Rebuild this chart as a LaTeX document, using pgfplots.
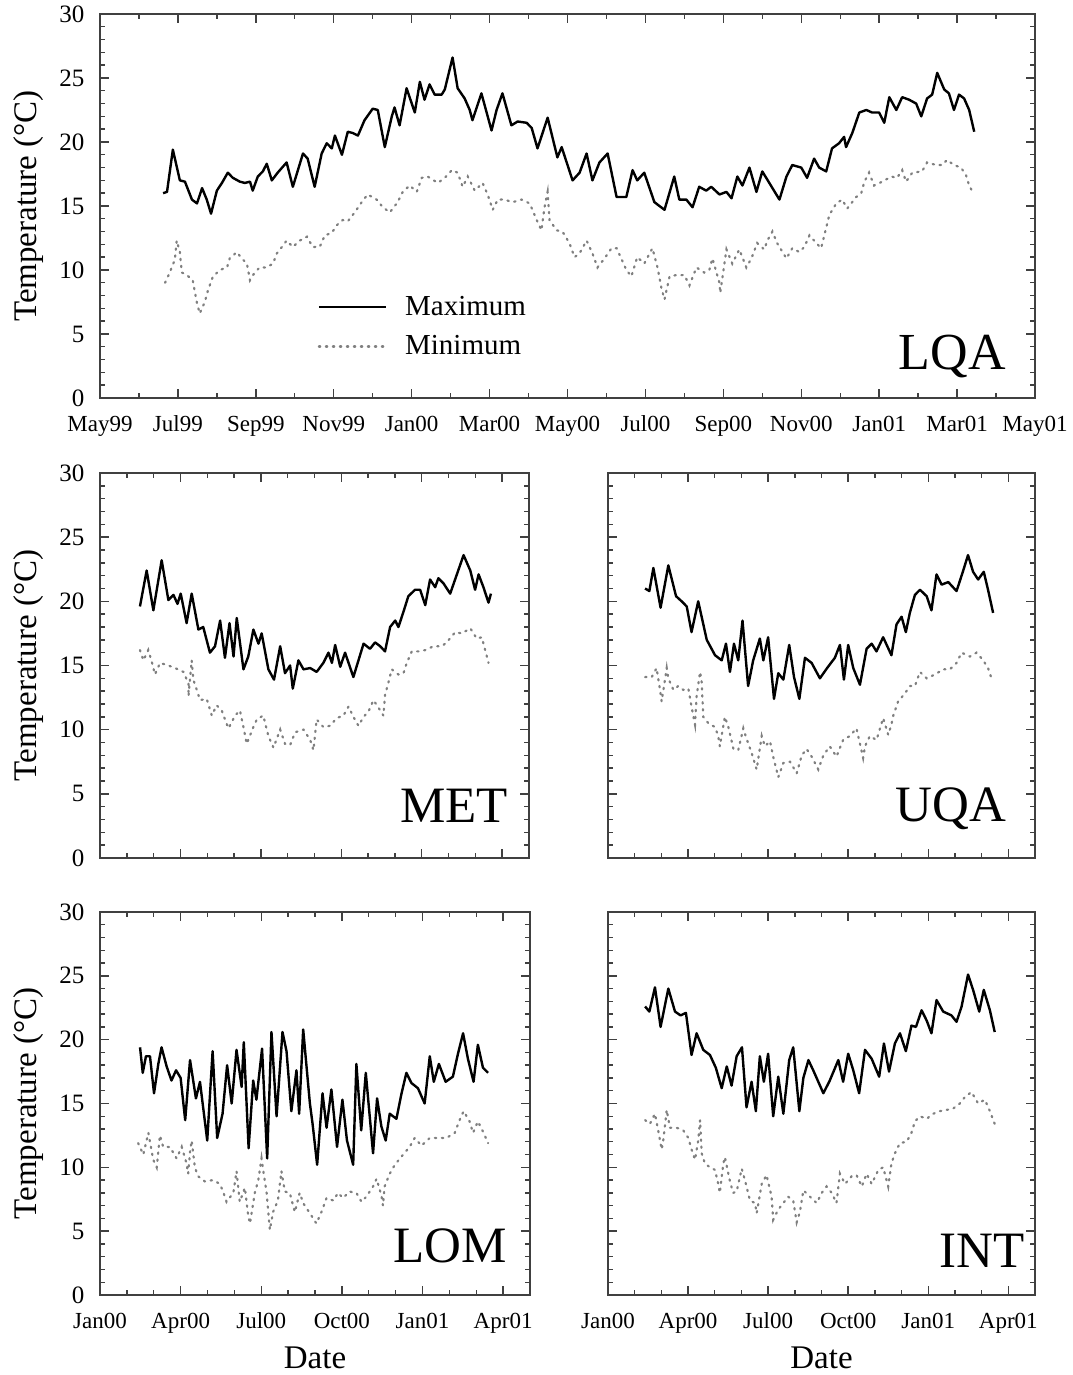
\documentclass[border=0pt]{standalone}
\usepackage{fontspec}
\setmainfont{Liberation Serif}
\usepackage{pgfplots}
\pgfplotsset{compat=1.18}
\begin{document}
\begin{tikzpicture}
\tikzset{lbl/.style={anchor=base east, inner sep=0pt, font=\fontsize{25.5}{27}\selectfont}}
\pgfplotsset{
  panel/.style={
    scale only axis, anchor=south west,
    ymin=0, ymax=30, ytick={0,5,...,30}, minor y tick num=4,
    tick align=inside, axis line style={black!75, line width=1.1pt},
    major tick length=4.5pt, minor tick length=2.5pt,
    every tick/.style={black!75, line width=0.7pt},
    /pgf/number format/assume math mode=true,
    yticklabel style={font=\fontsize{12.5}{14}\selectfont, xshift=-4.3pt},
    xticklabel style={font=\fontsize{11.5}{13}\selectfont, anchor=base, yshift=-16.8pt},
    every axis y label/.style={at={([xshift=-35.75pt]rel axis cs:0,0.5)}, rotate=90, anchor=center, font=\fontsize{16.5}{18}\selectfont},
    every axis x label/.style={at={([yshift=-31.5pt]rel axis cs:0.5,0)}, anchor=center, inner sep=0pt, font=\fontsize{16.5}{18}\selectfont},
  },
  tmax/.style={black, line width=1.2pt, line join=round, mark=none},
  tmin/.style={black!50, line width=1.1pt, dash pattern=on 0.7pt off 2.8pt, line cap=round, mark=none},
  small/.style={panel, xmin=0, xmax=16, xtick={0,3,...,15}, minor x tick num=2},
}
\path[use as bounding box] (0pt,0pt) rectangle (536pt,687.5pt);

% ---------------- LQA ----------------
\begin{axis}[panel, at={(50pt,488.5pt)}, width=467.5pt, height=192pt,
  xmin=0, xmax=24, xtick={0,2,...,24}, minor x tick num=1,
  xticklabels={May99,Jul99,Sep99,Nov99,Jan00,Mar00,May00,Jul00,Sep00,Nov00,Jan01,Mar01,May01},
  ylabel={Temperature (°C)},
  legend style={draw=none, fill=none, at={(0.226,0.287)}, anchor=north west,
    font=\fontsize{14.5}{16}\selectfont, row sep=4.5pt,
    /tikz/every odd column/.append style={column sep=7pt}},
  legend cell align=left,
  legend image code/.code={\draw[#1] (0pt,0pt) -- (33.5pt,0pt);}]
\addplot[tmax] coordinates {(1.62,16.0)(1.72,16.1)(1.87,19.4)(2.05,17.0)(2.18,16.9)(2.36,15.5)(2.49,15.2)(2.62,16.4)(2.74,15.5)(2.85,14.4)(3.00,16.2)(3.13,16.8)(3.28,17.6)(3.41,17.2)(3.59,16.9)(3.72,16.8)(3.85,16.9)(3.92,16.2)(4.05,17.3)(4.18,17.7)(4.28,18.3)(4.41,17.0)(4.56,17.6)(4.79,18.4)(4.95,16.5)(5.08,17.8)(5.21,19.1)(5.33,18.7)(5.51,16.5)(5.69,19.1)(5.82,19.9)(5.95,19.5)(6.03,20.5)(6.21,19.0)(6.36,20.8)(6.49,20.7)(6.62,20.5)(6.79,21.7)(7.00,22.6)(7.13,22.5)(7.31,19.6)(7.49,22.0)(7.56,22.7)(7.69,21.3)(7.87,24.2)(8.08,22.3)(8.21,24.7)(8.33,23.3)(8.46,24.5)(8.59,23.7)(8.77,23.7)(8.85,24.1)(9.05,26.6)(9.18,24.2)(9.36,23.4)(9.49,22.5)(9.56,21.7)(9.79,23.8)(10.05,20.9)(10.18,22.5)(10.33,23.8)(10.56,21.3)(10.72,21.6)(10.95,21.5)(11.08,21.1)(11.23,19.5)(11.49,21.9)(11.74,18.8)(11.85,19.6)(12.13,17.0)(12.31,17.6)(12.49,19.1)(12.64,17.0)(12.82,18.4)(13.03,19.1)(13.26,15.7)(13.51,15.7)(13.67,17.8)(13.79,17.0)(13.97,17.6)(14.23,15.3)(14.49,14.7)(14.74,17.3)(14.87,15.5)(15.05,15.5)(15.21,14.9)(15.38,16.5)(15.56,16.2)(15.69,16.5)(15.90,15.9)(16.08,16.1)(16.21,15.6)(16.36,17.3)(16.49,16.6)(16.67,18.0)(16.85,16.1)(17.00,17.7)(17.18,16.8)(17.44,15.5)(17.62,17.3)(17.77,18.2)(18.00,18.0)(18.15,17.2)(18.33,18.7)(18.46,18.0)(18.64,17.7)(18.79,19.5)(18.97,19.9)(19.10,20.4)(19.15,19.6)(19.31,20.7)(19.49,22.3)(19.67,22.5)(19.82,22.3)(20.00,22.3)(20.13,21.5)(20.26,23.5)(20.44,22.5)(20.59,23.5)(20.77,23.3)(20.95,23.0)(21.08,22.0)(21.23,23.4)(21.36,23.7)(21.49,25.4)(21.67,24.1)(21.79,23.8)(21.92,22.5)(22.05,23.7)(22.18,23.4)(22.31,22.5)(22.44,20.8)};
\addlegendentry{Maximum}
\addplot[tmin] coordinates {(1.67,9.0)(1.79,9.8)(1.92,10.8)(1.97,12.3)(2.05,11.4)(2.10,9.8)(2.23,9.6)(2.38,9.2)(2.44,8.2)(2.49,7.4)(2.56,6.6)(2.69,7.5)(2.77,8.4)(2.90,9.5)(3.08,10.0)(3.26,10.2)(3.33,10.9)(3.51,11.4)(3.64,10.9)(3.77,10.5)(3.85,9.2)(3.97,9.8)(4.10,10.2)(4.28,10.2)(4.44,10.5)(4.54,11.3)(4.67,11.8)(4.79,12.3)(4.95,11.8)(5.13,12.3)(5.31,12.6)(5.46,11.8)(5.64,11.8)(5.77,12.7)(5.95,12.9)(6.08,13.5)(6.23,13.9)(6.36,13.8)(6.54,14.5)(6.67,15.1)(6.87,15.9)(7.10,15.5)(7.26,14.9)(7.44,14.5)(7.64,15.3)(7.77,16.1)(7.95,16.6)(8.13,16.1)(8.26,17.2)(8.41,17.3)(8.67,16.8)(8.85,17.2)(9.03,17.8)(9.18,17.6)(9.31,16.5)(9.44,17.3)(9.62,16.2)(9.82,16.8)(9.95,15.9)(10.08,14.7)(10.21,15.5)(10.38,15.5)(10.59,15.3)(10.82,15.5)(11.03,15.2)(11.21,13.9)(11.33,13.1)(11.41,14.9)(11.49,16.1)(11.54,13.9)(11.72,13.1)(11.87,13.0)(12.05,12.1)(12.18,11.0)(12.31,11.3)(12.49,12.3)(12.64,11.3)(12.77,10.2)(12.95,10.9)(13.13,11.7)(13.26,11.7)(13.38,10.9)(13.51,10.0)(13.64,9.5)(13.79,11.0)(13.97,10.5)(14.18,11.7)(14.31,10.2)(14.41,8.6)(14.49,7.7)(14.62,9.5)(14.79,9.6)(15.00,9.6)(15.13,8.8)(15.31,10.2)(15.51,9.8)(15.64,10.0)(15.72,10.9)(15.90,9.0)(15.92,8.2)(16.08,11.6)(16.23,10.5)(16.41,11.6)(16.59,10.2)(16.72,10.9)(16.87,12.1)(17.05,11.6)(17.13,12.3)(17.26,13.0)(17.38,12.1)(17.62,10.9)(17.77,11.7)(17.95,11.4)(18.08,11.8)(18.21,12.7)(18.33,12.3)(18.51,11.7)(18.64,13.3)(18.72,14.3)(18.90,15.2)(19.05,15.5)(19.18,14.8)(19.41,15.7)(19.54,16.0)(19.62,16.9)(19.74,17.6)(19.87,16.6)(20.08,16.9)(20.31,17.3)(20.46,17.2)(20.59,17.8)(20.69,16.9)(20.85,17.6)(21.10,17.7)(21.23,18.4)(21.46,18.2)(21.62,18.2)(21.74,18.6)(21.92,18.2)(22.10,18.0)(22.23,17.4)(22.31,16.6)(22.38,16.2)};
\addlegendentry{Minimum}
\node[lbl, font=\fontsize{26}{28}\selectfont] at (rel axis cs:0.969,0.073) {LQA};
\end{axis}

% ---------------- MET ----------------
\begin{axis}[small, at={(50pt,258.5pt)}, width=214.5pt, height=192.5pt,
  xticklabels={}, ylabel={Temperature (°C)}]
\addplot[tmax] coordinates {(1.49,19.6)(1.74,22.4)(1.99,19.3)(2.30,23.2)(2.55,20.1)(2.74,20.5)(2.89,19.8)(3.01,20.6)(3.23,18.3)(3.42,20.6)(3.67,17.8)(3.85,18.0)(4.10,16.0)(4.29,16.5)(4.48,18.5)(4.66,15.6)(4.83,18.3)(4.98,15.7)(5.10,18.7)(5.35,14.7)(5.53,15.7)(5.72,17.8)(5.91,16.7)(6.03,17.5)(6.28,14.7)(6.49,13.9)(6.72,16.5)(6.90,14.4)(7.09,15.0)(7.19,13.2)(7.40,15.4)(7.59,14.7)(7.84,14.8)(8.08,14.5)(8.33,15.2)(8.52,16.0)(8.65,15.2)(8.77,16.6)(8.96,14.9)(9.14,16.0)(9.45,14.1)(9.83,16.7)(10.07,16.3)(10.26,16.8)(10.45,16.5)(10.63,16.1)(10.82,18.0)(11.01,18.5)(11.13,18.0)(11.32,19.2)(11.50,20.4)(11.75,20.9)(11.94,20.9)(12.13,19.7)(12.31,21.7)(12.50,21.1)(12.62,21.8)(12.81,21.4)(13.06,20.6)(13.31,22.1)(13.56,23.6)(13.81,22.4)(13.99,20.9)(14.12,22.1)(14.30,21.1)(14.49,19.9)(14.58,20.6)};
\addplot[tmin] coordinates {(1.49,16.2)(1.62,15.4)(1.80,16.2)(1.93,15.3)(2.05,14.3)(2.24,15.2)(2.55,15.0)(2.80,14.8)(3.11,14.5)(3.30,13.6)(3.30,12.6)(3.42,15.4)(3.48,13.9)(3.61,13.1)(3.73,12.3)(3.98,12.4)(4.17,11.1)(4.35,11.9)(4.54,11.5)(4.66,10.8)(4.79,10.1)(5.04,11.1)(5.22,11.5)(5.35,10.2)(5.47,8.9)(5.72,10.2)(5.85,10.8)(6.09,11.1)(6.28,9.5)(6.47,8.6)(6.72,10.0)(6.90,8.9)(7.09,8.8)(7.28,9.8)(7.59,10.0)(7.84,9.2)(7.96,8.4)(8.08,10.8)(8.33,10.2)(8.58,10.3)(8.83,10.9)(9.08,11.1)(9.27,11.8)(9.45,11.0)(9.64,10.3)(9.83,11.0)(10.01,11.4)(10.20,12.3)(10.39,11.7)(10.57,11.1)(10.63,12.7)(10.76,13.7)(10.88,14.7)(11.13,14.3)(11.32,14.4)(11.44,15.2)(11.63,16.1)(11.88,16.1)(12.13,16.2)(12.44,16.5)(12.75,16.5)(12.93,16.8)(13.25,17.6)(13.50,17.5)(13.81,17.9)(14.05,17.1)(14.24,17.2)(14.49,15.2)};
\node[lbl] at (rel axis cs:0.952,0.091) {MET};
\end{axis}

% ---------------- UQA ----------------
\begin{axis}[small, at={(304pt,258.5pt)}, width=213.5pt, height=192.5pt,
  xticklabels={}, yticklabels={}]
\addplot[tmax] coordinates {(1.39,21.0)(1.55,20.8)(1.70,22.6)(1.97,19.5)(2.26,22.8)(2.55,20.4)(2.76,20.0)(2.95,19.6)(3.13,17.6)(3.38,20.0)(3.70,17.0)(4.01,15.8)(4.26,15.4)(4.42,16.7)(4.57,14.5)(4.72,16.7)(4.88,15.4)(5.04,18.5)(5.25,13.4)(5.44,15.4)(5.69,17.1)(5.82,15.4)(6.00,17.2)(6.22,12.4)(6.38,14.4)(6.57,13.9)(6.79,16.6)(6.97,14.1)(7.17,12.4)(7.38,15.6)(7.63,15.2)(7.94,14.0)(8.21,14.8)(8.50,15.6)(8.69,16.6)(8.84,13.9)(9.00,16.6)(9.19,14.8)(9.44,13.5)(9.69,16.3)(9.88,16.7)(10.06,16.1)(10.31,17.2)(10.62,15.8)(10.81,18.2)(11.00,18.8)(11.16,17.6)(11.31,19.1)(11.50,20.5)(11.69,20.9)(11.94,20.4)(12.12,19.3)(12.31,22.1)(12.50,21.3)(12.75,21.5)(13.06,20.8)(13.28,22.2)(13.49,23.6)(13.68,22.3)(13.87,21.7)(14.08,22.3)(14.24,20.9)(14.43,19.1)};
\addplot[tmin] coordinates {(1.39,14.1)(1.64,14.1)(1.82,14.8)(1.95,13.1)(2.01,12.2)(2.20,14.8)(2.26,14.0)(2.45,13.1)(2.63,13.4)(2.82,13.1)(3.01,13.2)(3.13,11.8)(3.26,10.4)(3.32,12.6)(3.45,14.5)(3.51,13.7)(3.57,11.0)(3.76,10.5)(4.01,10.2)(4.13,9.5)(4.19,8.7)(4.38,11.0)(4.51,10.2)(4.70,8.5)(4.88,8.4)(5.07,10.1)(5.19,9.3)(5.38,8.2)(5.57,6.9)(5.76,9.5)(5.88,8.7)(6.07,9.1)(6.19,7.9)(6.38,6.3)(6.57,7.4)(6.82,7.5)(7.07,6.6)(7.26,8.0)(7.44,8.5)(7.63,7.9)(7.88,6.9)(8.07,8.0)(8.31,8.7)(8.56,7.9)(8.81,9.2)(9.06,9.5)(9.31,10.1)(9.56,7.8)(9.63,8.7)(9.81,9.5)(10.06,9.2)(10.31,10.9)(10.50,9.6)(10.62,10.4)(10.69,11.1)(10.87,12.2)(11.12,12.8)(11.31,13.4)(11.50,13.4)(11.69,14.5)(11.94,14.0)(12.25,14.3)(12.56,14.7)(12.81,14.7)(13.06,15.2)(13.25,16.0)(13.56,15.7)(13.81,16.0)(14.06,15.4)(14.24,14.8)(14.37,14.0)};
\node[lbl] at (rel axis cs:0.934,0.094) {UQA};
\end{axis}

% ---------------- LOM ----------------
\begin{axis}[small, at={(50pt,40pt)}, width=215pt, height=191.5pt,
  xticklabels={Jan00,Apr00,Jul00,Oct00,Jan01,Apr01},
  ylabel={Temperature (°C)}, xlabel={Date}]
\addplot[tmax] coordinates {(1.49,19.4)(1.59,17.4)(1.71,18.7)(1.86,18.7)(2.01,15.8)(2.17,18.1)(2.29,19.4)(2.48,17.9)(2.66,16.8)(2.83,17.6)(3.00,17.0)(3.17,13.7)(3.35,18.4)(3.57,15.4)(3.72,16.7)(3.99,12.1)(4.19,19.1)(4.36,12.3)(4.56,14.2)(4.73,18.0)(4.90,15.0)(5.08,19.2)(5.27,16.3)(5.35,19.8)(5.53,11.5)(5.70,16.8)(5.82,15.3)(6.03,19.3)(6.22,10.7)(6.38,20.6)(6.57,14.0)(6.79,20.6)(6.94,19.1)(7.12,14.4)(7.31,17.6)(7.41,14.2)(7.56,20.8)(7.81,15.0)(7.91,13.4)(8.08,10.2)(8.28,15.8)(8.43,13.1)(8.61,16.1)(8.82,11.6)(9.02,15.3)(9.19,12.1)(9.42,10.2)(9.54,18.1)(9.72,12.9)(9.89,17.4)(10.16,11.1)(10.31,15.4)(10.47,13.2)(10.63,12.1)(10.78,14.2)(11.03,13.8)(11.21,15.7)(11.40,17.4)(11.59,16.6)(11.83,16.2)(12.08,15.0)(12.27,18.7)(12.42,16.7)(12.61,18.1)(12.86,16.7)(13.13,17.1)(13.32,18.9)(13.51,20.5)(13.69,18.5)(13.90,16.7)(14.06,19.6)(14.25,17.8)(14.44,17.4)};
\addplot[tmin] coordinates {(1.42,11.9)(1.61,11.0)(1.80,12.7)(1.98,10.6)(2.11,10.0)(2.23,12.5)(2.35,11.6)(2.60,11.6)(2.85,10.7)(3.04,11.6)(3.22,10.3)(3.28,9.5)(3.35,11.2)(3.41,12.1)(3.53,10.0)(3.65,9.3)(3.90,8.9)(4.21,9.0)(4.46,8.7)(4.58,8.1)(4.71,7.3)(4.96,8.0)(5.08,9.7)(5.20,7.3)(5.39,8.4)(5.51,6.3)(5.58,5.6)(5.76,8.0)(5.89,9.0)(6.01,10.7)(6.07,9.8)(6.20,8.0)(6.32,5.1)(6.44,6.5)(6.62,7.4)(6.75,9.7)(6.88,8.1)(7.06,8.0)(7.25,6.5)(7.43,8.0)(7.56,7.2)(7.81,6.4)(8.05,5.6)(8.24,6.5)(8.43,7.6)(8.68,7.4)(8.86,8.0)(9.04,7.6)(9.29,8.1)(9.54,8.0)(9.73,7.3)(9.91,7.7)(10.16,8.5)(10.29,9.1)(10.47,7.8)(10.53,7.0)(10.59,8.5)(10.78,9.5)(10.97,10.2)(11.28,11.0)(11.52,11.6)(11.71,12.3)(11.96,11.7)(12.27,12.3)(12.58,12.3)(12.89,12.3)(13.20,12.7)(13.38,13.7)(13.53,14.4)(13.75,13.6)(13.88,12.7)(14.06,13.6)(14.25,12.8)(14.44,11.9)};
\node[lbl] at (rel axis cs:0.946,0.084) {LOM};
\end{axis}

% ---------------- INT ----------------
\begin{axis}[small, at={(304pt,40pt)}, width=213.5pt, height=191.5pt,
  xticklabels={Jan00,Apr00,Jul00,Oct00,Jan01,Apr01}, yticklabels={},
  xlabel={Date}]
\addplot[tmax] coordinates {(1.39,22.6)(1.55,22.2)(1.76,24.1)(1.97,21.0)(2.26,24.0)(2.51,22.2)(2.72,21.9)(2.92,22.1)(3.13,18.8)(3.32,20.5)(3.57,19.2)(3.82,18.8)(4.04,17.8)(4.26,16.2)(4.45,17.9)(4.63,16.4)(4.82,18.7)(5.02,19.4)(5.19,14.7)(5.38,16.7)(5.54,14.4)(5.69,18.7)(5.84,16.7)(6.00,18.9)(6.19,14.0)(6.38,17.1)(6.57,14.2)(6.79,18.4)(6.94,19.4)(7.17,14.4)(7.32,17.0)(7.51,18.4)(7.69,17.6)(8.07,15.8)(8.31,16.8)(8.63,18.4)(8.81,16.7)(9.00,18.9)(9.19,17.6)(9.41,15.8)(9.63,19.2)(9.88,18.5)(10.16,17.1)(10.34,19.7)(10.53,17.5)(10.75,19.7)(10.94,20.5)(11.16,19.1)(11.37,21.1)(11.54,21.0)(11.75,22.3)(11.94,21.5)(12.12,20.5)(12.31,23.1)(12.56,22.2)(12.87,21.9)(13.06,21.4)(13.25,22.6)(13.49,25.1)(13.68,23.9)(13.91,22.2)(14.08,23.9)(14.31,22.3)(14.49,20.6)};
\addplot[tmin] coordinates {(1.39,13.7)(1.57,13.4)(1.76,14.2)(1.88,12.9)(2.01,11.4)(2.07,12.1)(2.20,14.5)(2.32,13.1)(2.57,13.1)(2.82,12.9)(3.01,12.3)(3.13,11.4)(3.26,10.6)(3.38,12.1)(3.45,13.7)(3.51,11.1)(3.63,10.3)(3.82,10.0)(4.01,9.8)(4.13,8.7)(4.19,8.0)(4.32,10.3)(4.38,10.8)(4.57,8.9)(4.69,8.0)(4.82,8.1)(5.01,9.9)(5.13,9.0)(5.32,7.4)(5.51,7.2)(5.57,6.4)(5.76,8.7)(5.94,9.4)(6.13,7.7)(6.19,5.9)(6.38,6.7)(6.57,7.2)(6.75,7.7)(6.94,7.4)(7.07,5.7)(7.19,6.5)(7.32,8.2)(7.57,7.7)(7.82,7.2)(8.01,8.0)(8.19,8.5)(8.38,8.0)(8.56,7.2)(8.69,9.5)(8.88,8.7)(9.13,9.3)(9.31,9.4)(9.51,8.5)(9.69,9.5)(9.88,8.7)(10.13,9.8)(10.31,10.0)(10.50,8.5)(10.62,10.3)(10.75,11.1)(10.94,11.9)(11.19,12.0)(11.37,12.7)(11.50,13.6)(11.69,14.0)(11.94,13.8)(12.19,14.2)(12.43,14.4)(12.69,14.5)(12.93,14.6)(13.18,15.0)(13.37,15.5)(13.62,15.9)(13.87,15.0)(14.12,15.3)(14.31,14.4)(14.49,13.4)};
\node[lbl] at (rel axis cs:0.976,0.073) {INT};
\end{axis}
\end{tikzpicture}
\end{document}
